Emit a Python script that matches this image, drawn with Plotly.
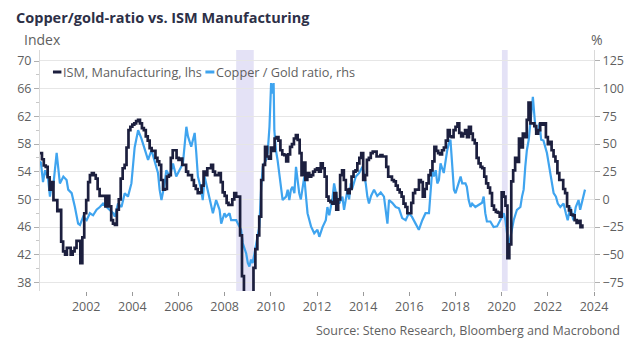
import plotly.graph_objects as go
import pandas as pd

# ---------------- data ----------------
ism_start = "2000-01-01"
ism_values = [
    56.7, 55.8, 54.9, 54.7, 53.2, 51.4, 52.5, 49.9, 49.9, 48.3, 48.5, 43.9,
    42.5, 42.0, 43.0, 43.0, 42.0, 42.5, 43.0, 44.0, 44.0, 40.8, 44.5, 48.0,
    49.9, 52.5, 53.5, 53.8, 53.5, 53.0, 51.5, 50.5, 50.5, 50.5, 49.0, 50.5,
    49.0, 47.0, 46.5, 46.3, 48.5, 50.0, 53.0, 54.5, 55.0, 57.5, 60.0, 60.5,
    60.8, 61.0, 61.3, 61.5, 61.0, 60.3, 60.0, 59.1, 58.5, 57.4, 57.0, 57.0,
    56.0, 55.5, 55.0, 52.8, 51.4, 51.5, 53.3, 53.5, 56.0, 57.1, 57.1, 56.0,
    55.7, 55.9, 55.0, 55.0, 54.0, 53.5, 53.5, 52.8, 52.0, 51.5, 50.9, 51.0,
    52.0, 54.0, 53.5, 54.5, 54.5, 55.0, 54.0, 53.5, 53.5, 53.8, 52.5, 51.0,
    50.5, 49.5, 49.2, 49.2, 50.0, 50.9, 50.4, 50.4, 44.8, 38.9, 36.2, 33.1,
    35.6, 35.8, 36.3, 40.1, 42.8, 44.8, 47.5, 52.8, 55.0, 57.6, 56.2, 55.9,
    57.5, 57.0, 58.8, 59.0, 58.5, 57.1, 56.5, 56.4, 55.5, 56.5, 57.6, 58.0,
    58.8, 59.3, 58.6, 56.7, 53.5, 55.3, 52.8, 53.8, 53.3, 53.5, 54.0, 54.3,
    54.5, 54.0, 55.2, 54.5, 53.3, 50.4, 49.8, 49.6, 49.4, 50.9, 48.5, 50.0,
    53.5, 54.2, 52.8, 51.4, 50.9, 51.5, 53.3, 54.0, 54.2, 55.2, 56.0, 56.7,
    52.8, 53.5, 55.7, 56.0, 56.7, 56.9, 56.9, 56.2, 56.2, 56.4, 56.2, 56.2,
    54.7, 53.3, 53.3, 52.8, 52.6, 52.0, 51.4, 51.0, 50.4, 49.4, 48.9, 48.0,
    48.0, 49.5, 50.9, 51.4, 51.4, 52.8, 52.5, 50.4, 51.5, 52.3, 53.5, 54.2,
    55.5, 57.6, 57.0, 56.7, 56.5, 57.1, 57.5, 58.5, 60.0, 59.1, 59.0, 60.0,
    60.5, 61.0, 59.6, 59.1, 59.5, 60.0, 59.0, 60.5, 59.5, 58.6, 58.1, 56.0,
    55.2, 54.7, 54.5, 53.3, 52.3, 51.7, 50.9, 49.1, 48.5, 48.2, 48.1, 47.5,
    51.0, 50.4, 49.1, 41.5, 43.5, 52.6, 54.2, 56.0, 55.4, 58.8, 57.5, 59.5,
    59.0, 61.5, 64.0, 61.0, 61.0, 60.6, 59.5, 60.0, 61.0, 60.8, 61.0, 59.0,
    58.0, 58.3, 57.1, 56.2, 55.5, 53.8, 52.8, 52.8, 51.5, 50.9, 49.0, 48.4,
    47.8, 47.7, 47.0, 46.6, 46.9, 46.0, 46.4,
]

cg_years = [
    2000.00, 2000.04, 2000.13, 2000.22, 2000.35, 2000.43, 2000.51, 2000.56, 2000.72, 2000.79,
    2000.86, 2001.01, 2001.15, 2001.22, 2001.37, 2001.51, 2001.65, 2001.73, 2001.87, 2002.02,
    2002.16, 2002.30, 2002.45, 2002.59, 2002.73, 2002.88, 2003.02, 2003.17, 2003.24, 2003.38,
    2003.53, 2003.67, 2003.81, 2003.96, 2004.10, 2004.25, 2004.39, 2004.54, 2004.68, 2004.83,
    2004.97, 2005.11, 2005.18, 2005.26, 2005.40, 2005.47, 2005.62, 2005.76, 2005.90, 2006.05,
    2006.19, 2006.34, 2006.41, 2006.55, 2006.70, 2006.77, 2006.84, 2006.98, 2007.05, 2007.13,
    2007.27, 2007.42, 2007.49, 2007.63, 2007.78, 2007.85, 2007.99, 2008.06, 2008.21, 2008.28,
    2008.50, 2008.57, 2008.64, 2008.71, 2008.78, 2008.93, 2009.00, 2009.07, 2009.14, 2009.21,
    2009.29, 2009.36, 2009.50, 2009.58, 2009.65, 2009.79, 2009.86, 2009.94, 2010.01, 2010.08,
    2010.12, 2010.15, 2010.22, 2010.29, 2010.37, 2010.44, 2010.51, 2010.66, 2010.73, 2010.80,
    2010.87, 2010.94, 2011.02, 2011.09, 2011.16, 2011.23, 2011.30, 2011.37, 2011.45, 2011.52,
    2011.59, 2011.74, 2011.88, 2012.02, 2012.10, 2012.24, 2012.38, 2012.45, 2012.53, 2012.67,
    2012.74, 2012.82, 2012.89, 2012.96, 2013.10, 2013.17, 2013.32, 2013.39, 2013.46, 2013.52,
    2013.68, 2013.82, 2013.97, 2014.04, 2014.11, 2014.18, 2014.25, 2014.34, 2014.47, 2014.61,
    2014.76, 2014.90, 2015.05, 2015.12, 2015.26, 2015.41, 2015.55, 2015.69, 2015.84, 2015.98,
    2016.11, 2016.27, 2016.41, 2016.56, 2016.70, 2016.85, 2016.92, 2016.99, 2017.06, 2017.14,
    2017.21, 2017.28, 2017.35, 2017.49, 2017.64, 2017.71, 2017.78, 2017.85, 2017.93, 2018.00,
    2018.14, 2018.22, 2018.29, 2018.43, 2018.49, 2018.57, 2018.65, 2018.72, 2018.86, 2019.01,
    2019.15, 2019.22, 2019.29, 2019.36, 2019.51, 2019.65, 2019.80, 2019.94, 2020.09, 2020.16,
    2020.27, 2020.33, 2020.42, 2020.52, 2020.66, 2020.81, 2020.88, 2020.95, 2021.02, 2021.09,
    2021.17, 2021.24, 2021.31, 2021.35, 2021.43, 2021.48, 2021.57, 2021.64, 2021.71, 2021.81,
    2021.96, 2022.03, 2022.15, 2022.25, 2022.35, 2022.43, 2022.54, 2022.68, 2022.78, 2022.86,
    2022.97, 2023.04, 2023.11, 2023.21, 2023.33, 2023.40, 2023.54, 2023.61,
]
cg_pct = [
    34.4, 33.1, 15.6, 26.3, 18.8, 2.5, 15.0, 9.4, 41.9, 29.4,
    14.4, 20.6, 17.5, 8.8, 5.6, -6.9, -21.9, -23.1, -15.6, -18.8,
    -12.5, -14.4, -9.4, -6.9, -3.8, -6.9, -9.4, -12.5, -15.6, -3.8,
    -6.9, 5.6, 2.5, 14.4, 46.9, 62.5, 55.0, 43.8, 35.6, 44.4,
    34.4, 23.8, 8.8, -0.6, 14.4, 26.3, 20.6, 32.5, 20.6, 26.3,
    32.5, 65.6, 56.9, 47.5, 60.0, 41.9, 20.6, 8.8, -0.6, 20.6,
    8.8, -3.8, -12.5, -0.6, -9.4, -21.9, -12.5, -15.6, -12.5, -18.8,
    -18.8, -21.9, -24.4, -27.5, -39.4, -48.8, -57.5, -60.6, -54.4, -57.5,
    -48.8, -39.4, -24.4, 11.3, 29.4, 35.6, 41.9, 65.6, 105.0, 95.6,
    105.0, 62.5, 44.4, 35.6, 23.8, 14.4, -0.6, 2.5, 8.8, -0.6,
    8.8, 11.3, 5.6, 29.4, 15.6, 5.6, 0.0, 11.3, 20.6, 3.1,
    -12.5, -24.4, -30.6, -27.5, -33.8, -25.0, -18.8, -6.9, -14.4, 1.3,
    14.4, 5.6, -0.6, -3.8, 2.5, -9.4, 8.8, 0.0, 14.4, 9.4,
    20.6, 23.8, 29.4, 21.9, 14.4, 2.5, -3.8, 3.1, 8.8, 3.1,
    6.3, 2.5, -21.9, -0.6, -3.1, -6.9, -8.1, -16.9, -18.8, -12.5,
    -15.6, -21.9, -27.5, -18.8, -12.5, -12.5, 5.6, 26.3, 20.6, 26.3,
    14.4, 17.5, 32.5, 23.8, 44.4, 50.6, 53.8, 35.6, 8.8, 5.6,
    14.4, 20.6, 14.4, 14.4, 11.3, -0.6, -6.9, -3.8, -6.9, -5.0,
    -3.1, 2.5, -12.5, -20.0, -20.0, -25.0, -24.4, -18.8, -12.5, -18.8,
    -36.9, -39.4, -30.6, -18.8, -9.4, -6.9, 2.5, 8.8, 29.4, 44.4,
    53.8, 71.9, 86.9, 92.5, 71.9, 62.5, 60.0, 68.8, 53.8, 53.1,
    41.9, 32.5, 17.5, 5.6, 2.5, -3.8, -6.9, -3.8, -12.5, -18.8,
    -6.9, -12.5, -18.8, -6.9, -0.6, -9.4, 2.5, 8.8,
]

recessions = [("2008-07-01", "2009-04-05"), ("2020-01-05", "2020-04-05")]
year_ticks = list(range(2002, 2025, 2))
left_ticks = list(range(38, 71, 4))
right_ticks = list(range(-75, 126, 25))

# ---------------- helpers ----------------
W, H = 636, 351
L, R, T, B = 40, 596, 50, 291


def px(x):
    return (x - L) / (R - L)


def py(y):
    return (B - y) / (B - T)


def dec_to_date(v):
    yr = int(v)
    start = pd.Timestamp(yr, 1, 1)
    end = pd.Timestamp(yr + 1, 1, 1)
    return start + (end - start) * (v - yr)


ism_dates = pd.date_range(ism_start, periods=len(ism_values), freq="MS")
cg_dates = [dec_to_date(v) for v in cg_years]

FONT = "Open Sans"
GREY = "#5f5f5f"
NAVY = "#1c1f3e"
BLUE = "#3fa4ef"

fig = go.Figure()
fig.add_trace(go.Scatter(x=cg_dates, y=cg_pct, mode="lines", yaxis="y",
                         line=dict(color=BLUE, width=2.2), showlegend=False,
                         name="Copper / Gold ratio, rhs"))
fig.add_trace(go.Scatter(x=ism_dates, y=ism_values, mode="lines", yaxis="y2",
                         line=dict(color=NAVY, width=2.7, shape="hv"), showlegend=False,
                         name="ISM, Manufacturing, lhs"))

shapes = []
for a, b in recessions:
    shapes.append(dict(type="rect", xref="x", yref="paper", x0=a, x1=b, y0=0, y1=1,
                       fillcolor="#e4e2f6", line=dict(width=0), layer="below"))
# legend marks
shapes.append(dict(type="line", xref="paper", yref="paper", x0=px(53), x1=px(61.5),
                   y0=py(72), y1=py(72), line=dict(color=NAVY, width=3)))
shapes.append(dict(type="line", xref="paper", yref="paper", x0=px(206), x1=px(215),
                   y0=py(72), y1=py(72), line=dict(color=BLUE, width=3)))

annotations = [
    dict(text="Index", xref="paper", yref="paper", x=px(22), y=py(40), xanchor="left",
         yanchor="middle", showarrow=False, font=dict(family=FONT, size=14, color=GREY)),
    dict(text="%", xref="paper", yref="paper", x=px(599), y=py(40), xanchor="center",
         yanchor="middle", showarrow=False, font=dict(family=FONT, size=14, color=GREY)),
    dict(text="ISM, Manufacturing, lhs", xref="paper", yref="paper", x=px(61), y=py(72),
         xanchor="left", yanchor="middle", showarrow=False,
         font=dict(family=FONT, size=12.7, color=GREY)),
    dict(text="Copper / Gold ratio, rhs", xref="paper", yref="paper", x=px(215), y=py(72),
         xanchor="left", yanchor="middle", showarrow=False,
         font=dict(family=FONT, size=12.7, color=GREY)),
    dict(text="Source: Steno Research, Bloomberg and Macrobond", xref="paper", yref="paper",
         x=px(624), y=py(330), xanchor="right", yanchor="middle", showarrow=False,
         font=dict(family=FONT, size=12.5, color=GREY)),
]

fig.update_layout(
    width=W, height=H,
    margin=dict(l=L, r=W - R, t=T, b=H - B),
    paper_bgcolor="white", plot_bgcolor="white",
    font=dict(family=FONT, size=12.5, color=GREY),
    title=dict(text="<b>Copper/gold-ratio vs. ISM Manufacturing</b>", x=16 / W, xref="container",
               xanchor="left", y=1 - 18 / H, yref="container", yanchor="middle",
               font=dict(family=FONT, size=14.5, color="#2d3047")),
    shapes=shapes,
    annotations=annotations,
    xaxis=dict(type="date", range=["2000-01-01", "2024-01-01"],
               tickvals=[f"{y}-01-01" for y in year_ticks], ticktext=[str(y) for y in year_ticks],
               ticks="outside", ticklen=4, tickcolor="#9a9a9a", showgrid=False, showline=False,
               zeroline=False, tickfont=dict(family=FONT, size=12.5, color=GREY)),
    yaxis=dict(side="right", range=[-82.75, 134.9], tickvals=right_ticks,
               ticks="outside", ticklen=5, tickcolor="#b0b0b0", showgrid=True,
               gridcolor="#e6e6e6", gridwidth=1, zeroline=False, showline=True,
               linecolor="#d9d9d9", linewidth=1,
               tickfont=dict(family=FONT, size=12.5, color=GREY)),
    yaxis2=dict(side="left", overlaying="y", range=[36.76, 71.59], tickvals=left_ticks,
                ticks="outside", ticklen=5, tickcolor="#b0b0b0", showgrid=False,
                zeroline=False, showline=True, linecolor="#d9d9d9", linewidth=1,
                minor=dict(dtick=2, ticks="outside", ticklen=3, tickcolor="#c8c8c8", showgrid=False),
                tickfont=dict(family=FONT, size=12.5, color=GREY)),
)

fig.write_html("out.html")
